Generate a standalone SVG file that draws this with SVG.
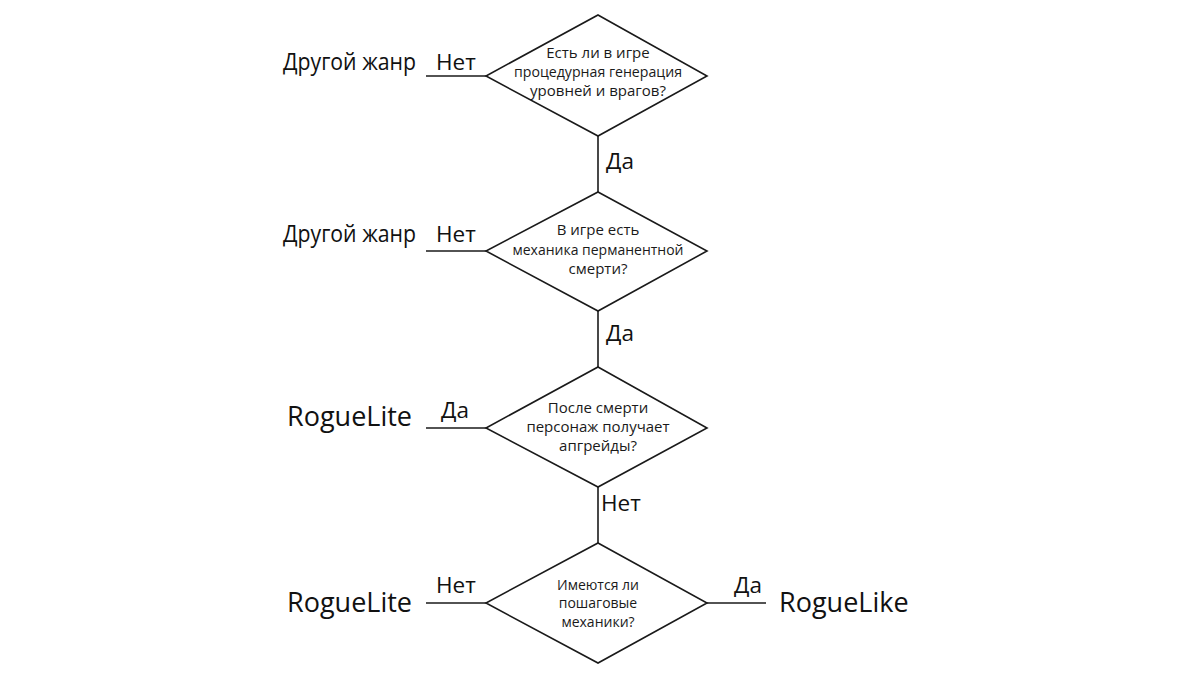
<svg xmlns="http://www.w3.org/2000/svg" width="1200" height="679" viewBox="0 0 1200 679">
<style>
.d{fill:#fff;stroke:#1a1a1a;stroke-width:1.6}
.c{stroke:#1a1a1a;stroke-width:1.6;fill:none}
.q{font-family:"Open Sans","Noto Sans",sans-serif;font-size:15px;fill:#1a1a1a;text-anchor:middle}
.q4{font-family:"Open Sans","Noto Sans",sans-serif;font-size:14px;fill:#1a1a1a;text-anchor:middle}
.l{font-family:"Open Sans","Noto Sans",sans-serif;font-size:23px;fill:#111}
.o{font-family:"Open Sans","Noto Sans",sans-serif;font-size:22.5px;fill:#111}
.r{font-family:"Open Sans","Noto Sans",sans-serif;font-size:27px;fill:#111}
</style>
<rect width="1200" height="679" fill="#fff"/>
<g id="connectors">
<line class="c" x1="426" y1="76" x2="486" y2="76"/>
<line class="c" x1="598" y1="136" x2="598" y2="192"/>
<line class="c" x1="426" y1="251" x2="486" y2="251"/>
<line class="c" x1="598" y1="311" x2="598" y2="367"/>
<line class="c" x1="426" y1="428" x2="486" y2="428"/>
<line class="c" x1="598" y1="487" x2="598" y2="543"/>
<line class="c" x1="426" y1="603" x2="486" y2="603"/>
<line class="c" x1="707" y1="603" x2="766" y2="603"/>
<text class="o" x="436" y="70">Нет</text>
<text class="o" x="606" y="169">Да</text>
<text class="o" x="436" y="242">Нет</text>
<text class="o" x="606" y="341">Да</text>
<text class="o" x="441" y="418">Да</text>
<text class="o" x="601" y="511">Нет</text>
<text class="o" x="436" y="593">Нет</text>
<text class="o" x="734" y="593">Да</text>
</g>
<g id="q1">
<polygon class="d" points="598,15 707,76 598,136 486,76"/>
<text class="q" x="598" y="58">Есть ли в игре</text>
<text class="q" x="598" y="77" textLength="168" lengthAdjust="spacingAndGlyphs">процедурная генерация</text>
<text class="q" x="598" y="96">уровней и врагов?</text>
</g>
<g id="other1"><text class="l" x="283" y="70" textLength="133" lengthAdjust="spacingAndGlyphs">Другой жанр</text></g>
<g id="q2">
<polygon class="d" points="598,192 707,251 598,311 486,251"/>
<text class="q" x="598" y="235">В игре есть</text>
<text class="q" x="598" y="255" textLength="171" lengthAdjust="spacingAndGlyphs">механика перманентной</text>
<text class="q" x="598" y="274">смерти?</text>
</g>
<g id="other2"><text class="l" x="283" y="242" textLength="133" lengthAdjust="spacingAndGlyphs">Другой жанр</text></g>
<g id="q3">
<polygon class="d" points="598,367 707,428 598,487 486,428"/>
<text class="q" x="598" y="413">После смерти</text>
<text class="q" x="598" y="432">персонаж получает</text>
<text class="q" x="598" y="451">апгрейды?</text>
</g>
<g id="roguelite1"><text class="r" x="287" y="426">RogueLite</text></g>
<g id="q4">
<polygon class="d" points="598,543 707,603 598,663 486,603"/>
<text class="q4" x="598" y="590">Имеются ли</text>
<text class="q4" x="598" y="608">пошаговые</text>
<text class="q4" x="598" y="627">механики?</text>
</g>
<g id="roguelite2"><text class="r" x="287" y="612">RogueLite</text></g>
<g id="roguelike"><text class="r" x="779" y="612">RogueLike</text></g>
</svg>
